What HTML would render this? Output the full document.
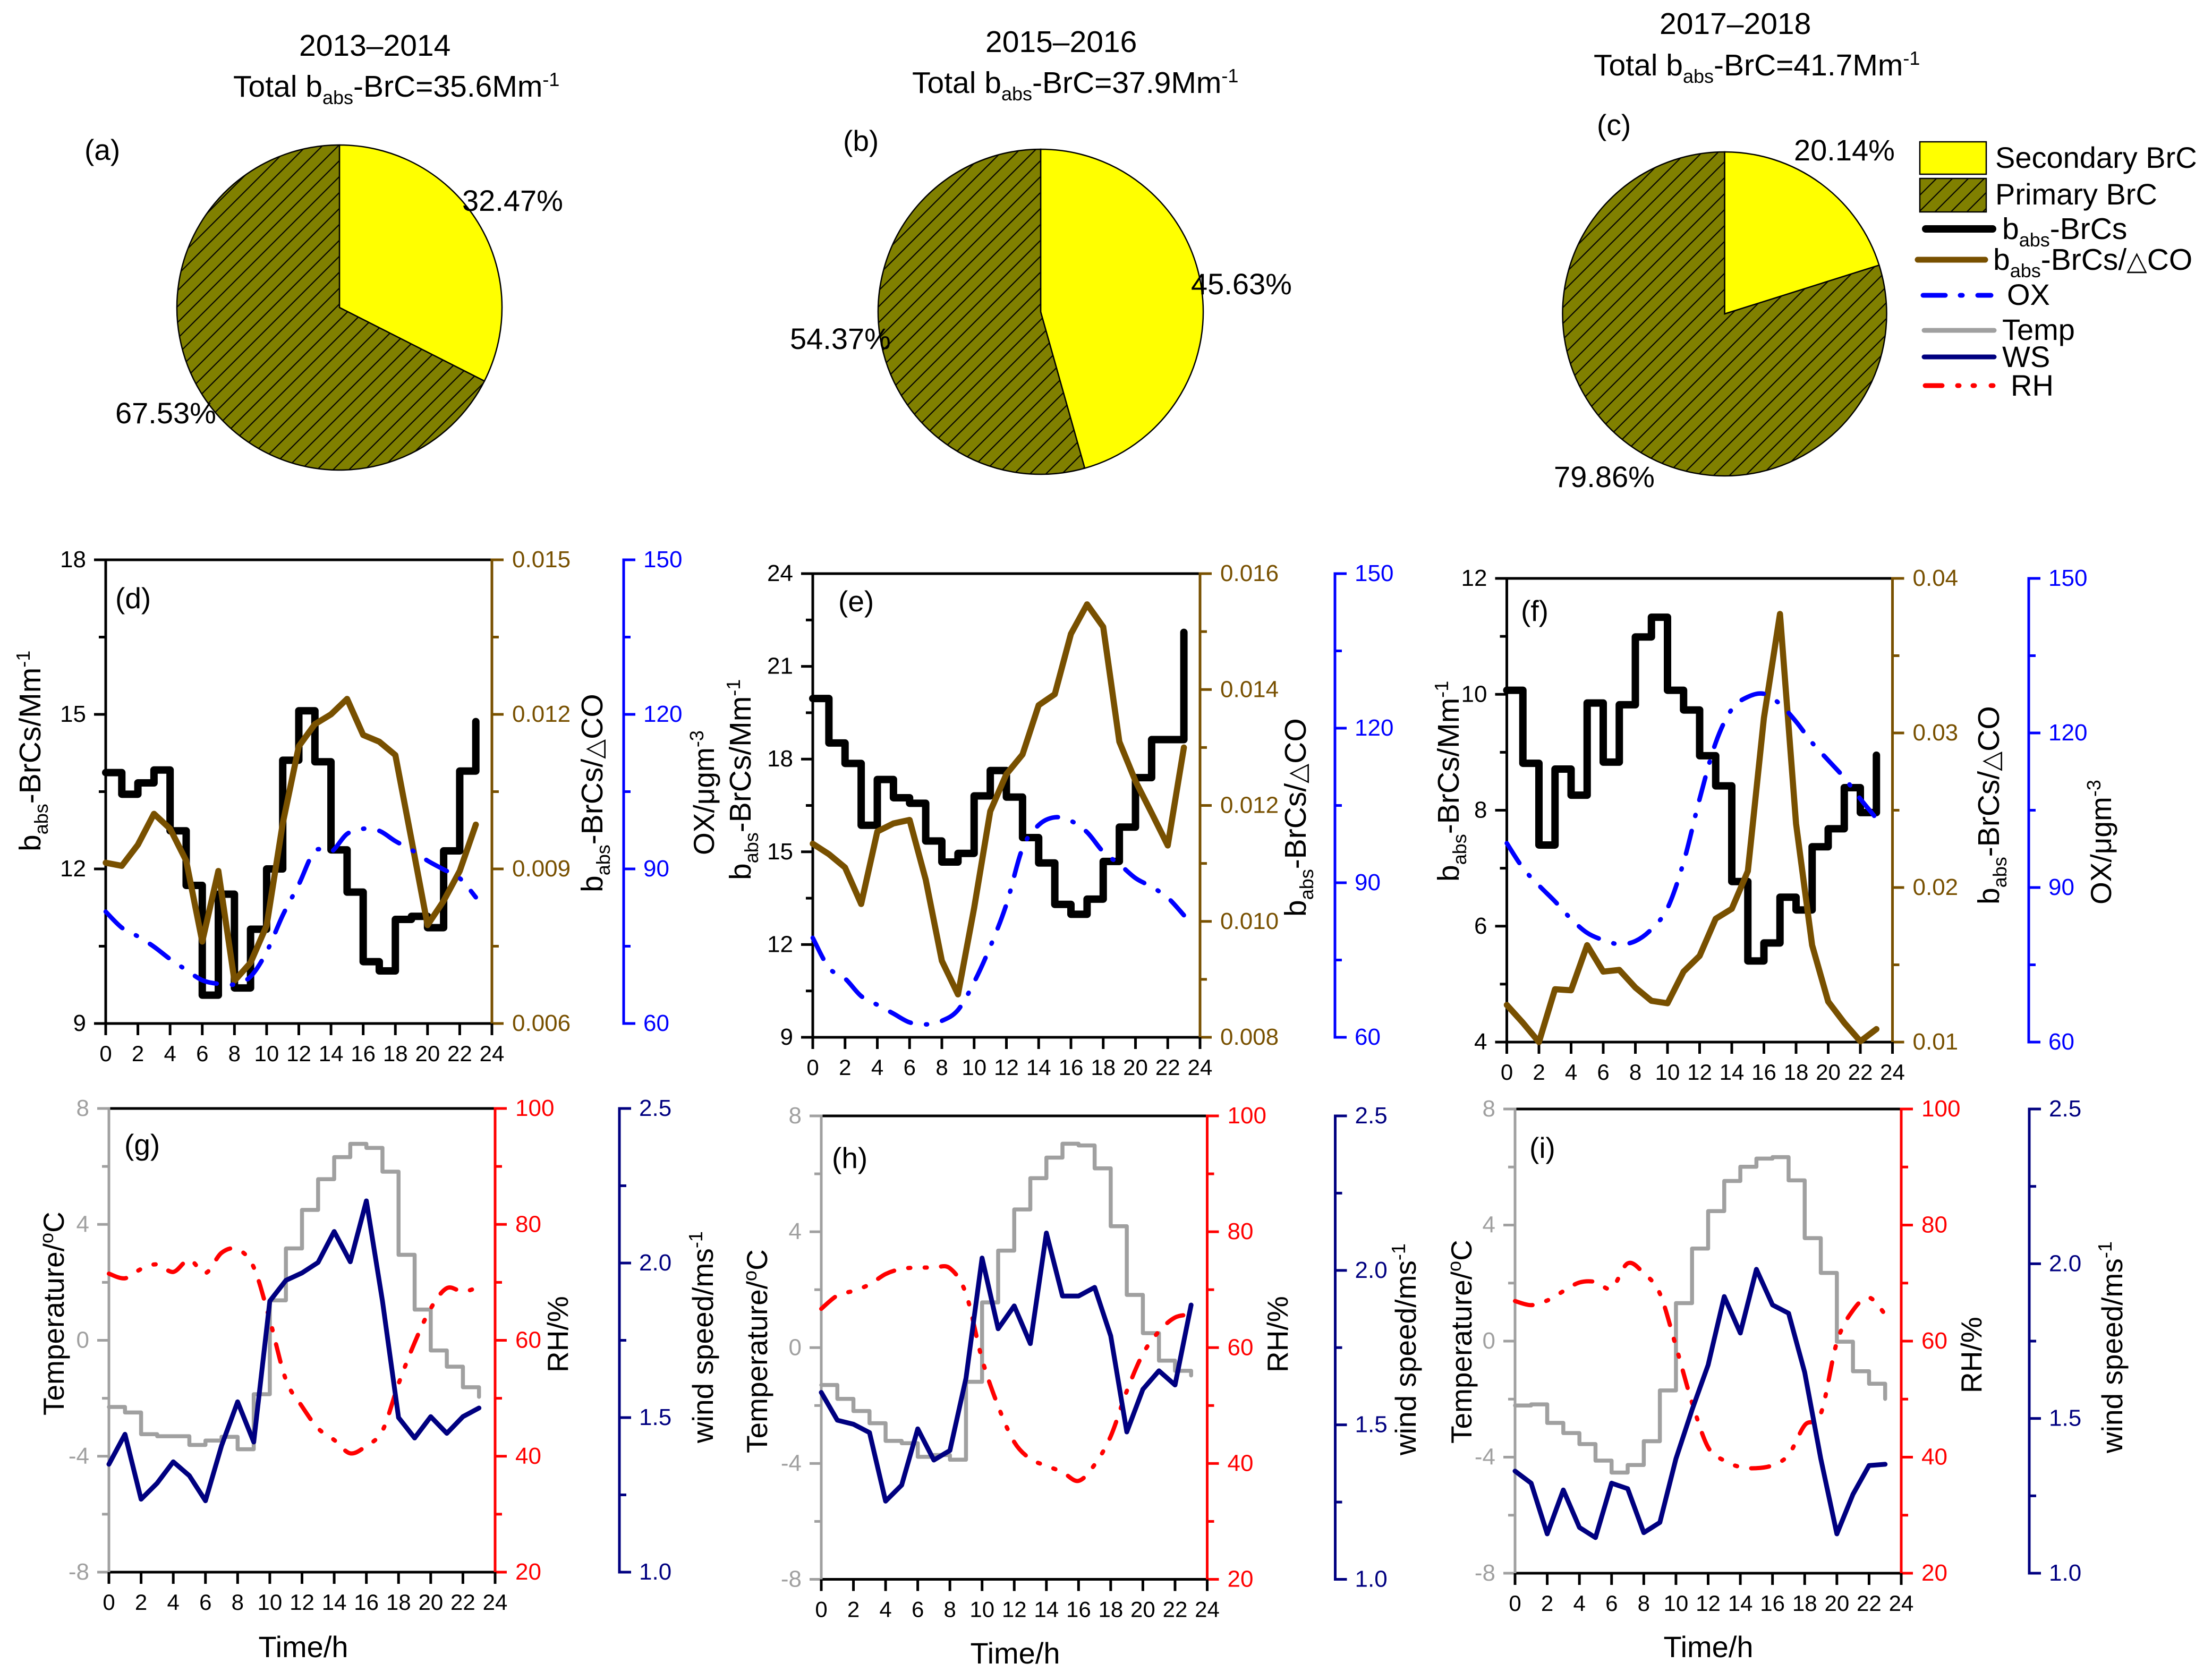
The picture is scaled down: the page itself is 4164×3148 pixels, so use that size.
<!DOCTYPE html>
<html lang="en">
<head>
<meta charset="utf-8">
<title>BrC pie charts and diurnal profiles</title>
<style>
html,body{margin:0;padding:0;background:#fff;}
svg{display:block;}
text{font-family:"Liberation Sans","DejaVu Sans",sans-serif;fill:#000;}
.t55{font-size:55px;}
.t56{font-size:56px;}
.t57{font-size:57px;}
.sub{font-size:36px;}
.tri{font-family:"DejaVu Sans",sans-serif;font-size:48px;}
.tril{font-family:"DejaVu Sans",sans-serif;font-size:50px;}
</style>
</head>
<body>
<svg id="figure" xmlns="http://www.w3.org/2000/svg" width="4164" height="3148" viewBox="0 0 4164 3148">
<defs>
<pattern id="hatch" patternUnits="userSpaceOnUse" width="21.21" height="21.21" patternTransform="rotate(-45)">
<rect width="21.21" height="21.21" fill="#808000"/>
<line x1="0" y1="8.2" x2="21.21" y2="8.2" stroke="#000" stroke-width="2"/>
</pattern>
<pattern id="hatch-legend" patternUnits="userSpaceOnUse" width="21.21" height="21.21" patternTransform="rotate(-45)">
<rect width="21.21" height="21.21" fill="#808000"/>
<line x1="0" y1="15.6" x2="21.21" y2="15.6" stroke="#000" stroke-width="2"/>
</pattern>
</defs>
<rect width="4164" height="3148" fill="#fff"/>

<text class="t57" x="563" y="105">2013–2014</text>
<text class="t57" x="439" y="182">Total b<tspan class="sub" dy="14">abs</tspan><tspan dy="-14">-BrC=35.6Mm</tspan><tspan class="sub" dy="-20">-1</tspan></text>
<text class="t57" x="1855" y="98">2015–2016</text>
<text class="t57" x="1717" y="175">Total b<tspan class="sub" dy="14">abs</tspan><tspan dy="-14">-BrC=37.9Mm</tspan><tspan class="sub" dy="-20">-1</tspan></text>
<text class="t57" x="3124" y="64">2017–2018</text>
<text class="t57" x="3000" y="142">Total b<tspan class="sub" dy="14">abs</tspan><tspan dy="-14">-BrC=41.7Mm</tspan><tspan class="sub" dy="-20">-1</tspan></text>

<g id="pie-a"></g>
<g id="pie-b"></g>
<g id="pie-c"></g>

<text class="t55" x="159" y="301">(a)</text>
<text class="t55" x="1587" y="284">(b)</text>
<text class="t55" x="3006" y="254">(c)</text>
<text class="t56" x="870" y="397">32.47%</text>
<text class="t56" x="217" y="797">67.53%</text>
<text class="t56" x="2242" y="554">45.63%</text>
<text class="t56" x="1487" y="657">54.37%</text>
<text class="t56" x="3377" y="302">20.14%</text>
<text class="t56" x="2925" y="917">79.86%</text>

<g>
<rect x="3614" y="267" width="125" height="61" fill="#ffff00" stroke="#000" stroke-width="2.5"/>
<text class="t56" x="3756" y="316">Secondary BrC</text>
<rect x="3614" y="336" width="125" height="63" fill="url(#hatch-legend)" stroke="#000" stroke-width="2.5"/>
<text class="t56" x="3756" y="385">Primary BrC</text>
<line x1="3625" y1="431" x2="3751" y2="431" stroke="#000" stroke-width="14" stroke-linecap="round"/>
<text class="t57" x="3769" y="450">b<tspan class="sub" dy="14">abs</tspan><tspan dy="-14">-BrCs</tspan></text>
<line x1="3610" y1="489" x2="3737" y2="489" stroke="#785000" stroke-width="11" stroke-linecap="round"/>
<text class="t57" x="3752" y="508">b<tspan class="sub" dy="14">abs</tspan><tspan dy="-14">-BrCs/</tspan><tspan class="tril">△</tspan><tspan>CO</tspan></text>
<line x1="3620" y1="556" x2="3748" y2="556" stroke="#0000ff" stroke-width="9" stroke-linecap="round" stroke-dasharray="42 28 4 29 25"/>
<text class="t56" x="3778" y="574">OX</text>
<line x1="3622" y1="622" x2="3754" y2="622" stroke="#a0a0a0" stroke-width="9" stroke-linecap="round"/>
<text class="t56" x="3769" y="640">Temp</text>
<line x1="3622" y1="672" x2="3754" y2="672" stroke="#000080" stroke-width="9" stroke-linecap="round"/>
<text class="t56" x="3769" y="691">WS</text>
<line x1="3624" y1="726" x2="3752" y2="726" stroke="#ff0000" stroke-width="9" stroke-linecap="round" stroke-dasharray="32 29 3 26 3 31 4"/>
<text class="t56" x="3785" y="745">RH</text>
</g>

<g id="panel-d"></g>
<g id="panel-e"></g>
<g id="panel-f"></g>
<g id="panel-g"></g>
<g id="panel-h"></g>
<g id="panel-i"></g>

<text class="t55" x="217" y="1145">(d)</text>
<text class="t55" x="1578" y="1151">(e)</text>
<text class="t55" x="2863" y="1169">(f)</text>
<text class="t55" x="234" y="2174">(g)</text>
<text class="t55" x="1566" y="2199">(h)</text>
<text class="t55" x="2879" y="2180">(i)</text>

<text class="t57" transform="translate(76 1603) rotate(-90)">b<tspan class="sub" dy="14">abs</tspan><tspan dy="-14">-BrCs/Mm</tspan><tspan class="sub" dy="-20">-1</tspan></text>
<text class="t57" transform="translate(1134 1680) rotate(-90)">b<tspan class="sub" dy="14">abs</tspan><tspan dy="-14">-BrCs/</tspan><tspan class="tri">△</tspan><tspan>CO</tspan></text>
<text class="t55" transform="translate(1344 1610) rotate(-90)">OX/μgm<tspan class="sub" dy="-20">-3</tspan></text>
<text class="t57" transform="translate(1413 1657) rotate(-90)">b<tspan class="sub" dy="14">abs</tspan><tspan dy="-14">-BrCs/Mm</tspan><tspan class="sub" dy="-20">-1</tspan></text>
<text class="t57" transform="translate(2458 1726) rotate(-90)">b<tspan class="sub" dy="14">abs</tspan><tspan dy="-14">-BrCs/</tspan><tspan class="tri">△</tspan><tspan>CO</tspan></text>
<text class="t57" transform="translate(2746 1660) rotate(-90)">b<tspan class="sub" dy="14">abs</tspan><tspan dy="-14">-BrCs/Mm</tspan><tspan class="sub" dy="-20">-1</tspan></text>
<text class="t57" transform="translate(3763 1703) rotate(-90)">b<tspan class="sub" dy="14">abs</tspan><tspan dy="-14">-BrCs/</tspan><tspan class="tri">△</tspan><tspan>CO</tspan></text>
<text class="t55" transform="translate(3974 1703) rotate(-90)">OX/μgm<tspan class="sub" dy="-20">-3</tspan></text>

<text class="t55" transform="translate(120 2665) rotate(-90)">Temperature/<tspan class="sub" dy="-20">o</tspan><tspan dy="20">C</tspan></text>
<text class="t55" transform="translate(1069 2584) rotate(-90)">RH/%</text>
<text class="t55" transform="translate(1342 2717) rotate(-90)">wind speed/ms<tspan class="sub" dy="-20">-1</tspan></text>
<text class="t56" x="571" y="3120" text-anchor="middle">Time/h</text>
<text class="t55" transform="translate(1444 2736) rotate(-90)">Temperature/<tspan class="sub" dy="-20">o</tspan><tspan dy="20">C</tspan></text>
<text class="t55" transform="translate(2424 2584) rotate(-90)">RH/%</text>
<text class="t55" transform="translate(2665 2740) rotate(-90)">wind speed/ms<tspan class="sub" dy="-20">-1</tspan></text>
<text class="t56" x="1911" y="3132" text-anchor="middle">Time/h</text>
<text class="t55" transform="translate(2770 2718) rotate(-90)">Temperature/<tspan class="sub" dy="-20">o</tspan><tspan dy="20">C</tspan></text>
<text class="t55" transform="translate(3730 2623) rotate(-90)">RH/%</text>
<text class="t55" transform="translate(3995 2736) rotate(-90)">wind speed/ms<tspan class="sub" dy="-20">-1</tspan></text>
<text class="t56" x="3216" y="3120" text-anchor="middle">Time/h</text>
</svg>

<script>
// ---------- data ----------
const pieAShares = [32.47, 67.53];
const pieBShares = [45.63, 54.37];
const pieCShares = [20.14, 79.86];

const xTickLabels = ["0","2","4","6","8","10","12","14","16","18","20","22","24"];

const dBrcsTicks = ["9","12","15","18"];
const dRatioTicks = ["0.006","0.009","0.012","0.015"];
const eBrcsTicks = ["9","12","15","18","21","24"];
const eRatioTicks = ["0.008","0.010","0.012","0.014","0.016"];
const fBrcsTicks = ["4","6","8","10","12"];
const fRatioTicks = ["0.01","0.02","0.03","0.04"];
const oxTicks = ["60","90","120","150"];
const tempTicks = ["-8","-4","0","4","8"];
const rhTicks = ["20","40","60","80","100"];
const wsTicks = ["1.0","1.5","2.0","2.5"];

const dBrcs = [13.87,13.45,13.67,13.92,12.74,11.68,9.55,11.51,9.69,10.83,12.0,14.11,15.07,14.08,12.37,11.55,10.2,10.02,11.02,11.08,10.86,12.35,13.9,14.86];
const dRatio = [0.00912,0.00906,0.00947,0.01007,0.00978,0.00916,0.00759,0.00896,0.00683,0.00718,0.0079,0.00988,0.01138,0.01181,0.0120,0.0123,0.0116,0.01147,0.01121,0.00957,0.00791,0.00838,0.00896,0.00986];
const dOx = [81.7,78.6,76.9,74.9,72.5,70.4,68.4,67.7,67.6,69.1,73.9,81,87,93.5,93.3,96.8,97.8,97.4,95.4,93.7,91.6,89.9,88.2,84.5];

const eBrcs = [19.96,18.52,17.86,15.86,17.34,16.75,16.57,15.35,14.67,14.95,16.81,17.63,16.77,15.46,14.64,13.3,12.98,13.47,14.69,15.8,17.4,18.63,18.63,22.1];
const eRatio = [0.01134,0.01116,0.01093,0.0103,0.01155,0.01169,0.01175,0.01072,0.00932,0.00874,0.01023,0.0119,0.01254,0.01288,0.01373,0.01392,0.01496,0.01547,0.01508,0.0131,0.01242,0.01187,0.01131,0.013];
const eOx = [79.3,73.5,71.4,68,66.3,64.6,62.9,62.5,63.2,65.3,70.7,77.6,85.8,96.7,101.2,102.7,102,99.8,96,93.6,90.9,89.2,87.1,83.7];

const fBrcs = [10.07,8.81,7.4,8.71,8.26,9.85,8.83,9.82,10.99,11.33,10.07,9.73,8.94,8.42,6.77,5.4,5.71,6.5,6.28,7.37,7.68,8.39,7.96,8.95];
const fRatio = [0.0124,0.01125,0.01,0.01342,0.01335,0.01627,0.01456,0.01467,0.01353,0.01267,0.01251,0.01456,0.01558,0.01798,0.01862,0.02106,0.03097,0.0377,0.02413,0.01627,0.01262,0.01125,0.01005,0.01084];
const fOx = [98.6,93.8,90.4,87.3,83.9,81.2,79.8,79,79.6,81.9,86,94.9,107.2,118.1,124.6,127,127.6,125.6,122.2,118.1,114.7,111.3,107.2,103.4];

const gTemp = [-2.3,-2.49,-3.24,-3.31,-3.31,-3.61,-3.46,-3.33,-3.76,-1.86,1.38,3.17,4.5,5.56,6.32,6.78,6.64,5.82,2.95,1.06,-0.35,-0.91,-1.62,-1.95];
const gRh = [71.5,70.7,72.3,73.1,71.8,73.9,71.6,75.1,75.7,72.6,63.5,53.2,48.6,44.8,42.8,40.5,41.8,44.4,52.5,59.6,65.5,69,68.4,69.2];
const gWs = [1.349,1.446,1.236,1.288,1.357,1.312,1.231,1.409,1.551,1.421,1.877,1.944,1.968,2.002,2.102,2.004,2.201,1.877,1.5,1.434,1.503,1.449,1.503,1.531];

const hTemp = [-1.29,-1.77,-2.19,-2.61,-3.22,-3.3,-3.77,-3.71,-3.87,-1.18,1.56,3.35,4.77,5.85,6.56,7.04,6.98,6.19,4.19,1.82,0.5,-0.45,-0.8,-0.96];
const hRh = [66.7,69,69.8,70.9,72.7,73.6,73.8,73.8,73.7,69.3,58,49.9,43.7,40.8,39.6,38.5,37,39.8,44.7,52.5,58.9,62.8,65.2,65.7];
const hWs = [1.605,1.515,1.502,1.475,1.253,1.305,1.487,1.386,1.417,1.651,2.04,1.811,1.885,1.763,2.121,1.917,1.917,1.945,1.788,1.477,1.615,1.675,1.629,1.888];

const iTemp = [-2.22,-2.18,-2.82,-3.17,-3.55,-4.12,-4.53,-4.27,-3.45,-1.7,1.31,3.19,4.48,5.52,6.01,6.29,6.34,5.54,3.55,2.35,-0.02,-1.04,-1.47,-1.99];
const iRh = [66.9,66.2,67,68.6,70.1,70.2,69.1,73.4,71.7,68.2,59.1,49.4,41.7,39.4,38.3,38.1,38.6,40.4,45.5,47.5,59.8,65.3,67.5,64.6];
const iWs = [1.33,1.291,1.127,1.269,1.148,1.115,1.291,1.273,1.131,1.164,1.37,1.528,1.673,1.894,1.776,1.982,1.867,1.84,1.649,1.37,1.127,1.255,1.348,1.352];

// ---------- helpers ----------
const NS = "http://www.w3.org/2000/svg";
const BROWN = "#785000", BLUE = "#0000ff", RED = "#ff0000", NAVY = "#000080", GREY = "#a0a0a0", BLACK = "#000000";

function axisScale(min, max, a, b) {
  return function (v) { return a + (v - min) / (max - min) * (b - a); };
}

function drawPie(id, shares, cx, cy, r) {
  const g = document.getElementById(id);
  const total = shares.reduce(function (s, v) { return s + v; }, 0);
  let acc = 0;
  const fills = ["#ffff00", "url(#hatch)"];
  shares.forEach(function (v, i) {
    const a0 = acc / total * 2 * Math.PI;
    acc += v;
    const a1 = acc / total * 2 * Math.PI;
    const large = a1 - a0 > Math.PI ? 1 : 0;
    const d = "M" + cx + " " + cy +
      "L" + (cx + r * Math.sin(a0)) + " " + (cy - r * Math.cos(a0)) +
      "A" + r + " " + r + " 0 " + large + " 1 " + (cx + r * Math.sin(a1)) + " " + (cy - r * Math.cos(a1)) + "Z";
    const slice = document.createElementNS(NS, "path");
    
    
    slice.setAttribute("d", d);
    slice.setAttribute("fill", fills[i]);
    slice.setAttribute("stroke", "#000");
    slice.setAttribute("stroke-width", "2.5");
    g.appendChild(slice);
  });
}

function spine(g, x1, y1, x2, y2, color) {
  const line = document.createElementNS(NS, "line");
  
  
  line.setAttribute("x1", x1);
  line.setAttribute("y1", y1);
  line.setAttribute("x2", x2);
  line.setAttribute("y2", y2);
  line.setAttribute("stroke", color);
  line.setAttribute("stroke-width", "5");
  line.setAttribute("stroke-linecap", "square");
  g.appendChild(line);
}

function yAxis(g, axisX, dir, ticks, y, color, labelColor, labelOffset) {
  // dir = -1 tick marks to the left, +1 tick marks to the right
  const values = ticks.map(parseFloat);
  const marks = [];
  values.forEach(function (v, i) {
    marks.push({ v: v, major: true, label: ticks[i] });
    if (i < values.length - 1) marks.push({ v: (v + values[i + 1]) / 2, major: false });
  });
  marks.forEach(function (m) {
    const tick = document.createElementNS(NS, "line");
    
    
    tick.setAttribute("x1", axisX);
    tick.setAttribute("x2", axisX + dir * (m.major ? 22 : 13));
    tick.setAttribute("y1", y(m.v));
    tick.setAttribute("y2", y(m.v));
    tick.setAttribute("stroke", color);
    tick.setAttribute("stroke-width", "5");
    g.appendChild(tick);
    if (m.major) {
      const label = document.createElementNS(NS, "text");
      
      
      label.setAttribute("x", axisX + dir * labelOffset);
      label.setAttribute("y", y(m.v) + 14);
      label.setAttribute("font-size", "44");
      label.setAttribute("text-anchor", dir < 0 ? "end" : "start");
      label.setAttribute("style", "fill:" + labelColor);
      label.textContent = m.label;
      g.appendChild(label);
    }
  });
}

function xAxis(g, x, bottom) {
  xTickLabels.forEach(function (t) {
    const v = parseFloat(t);
    const tick = document.createElementNS(NS, "line");
    
    
    tick.setAttribute("x1", x(v));
    tick.setAttribute("x2", x(v));
    tick.setAttribute("y1", bottom);
    tick.setAttribute("y2", bottom + 22);
    tick.setAttribute("stroke", "#000");
    tick.setAttribute("stroke-width", "5");
    g.appendChild(tick);
    const label = document.createElementNS(NS, "text");
    
    
    label.setAttribute("x", x(v));
    label.setAttribute("y", bottom + 71);
    label.setAttribute("font-size", "42");
    label.setAttribute("text-anchor", "middle");
    label.textContent = t;
    g.appendChild(label);
  });
}

function stepSeries(g, values, x, y, color, width) {
  let d = "M" + x(0) + " " + y(values[0]);
  values.forEach(function (v, i) {
    if (i > 0) d += "V" + y(v);
    if (i < values.length - 1) d += "H" + x(i + 1);
  });
  const path = document.createElementNS(NS, "path");
  
  
  path.setAttribute("d", d);
  path.setAttribute("fill", "none");
  path.setAttribute("stroke", color);
  path.setAttribute("stroke-width", width);
  path.setAttribute("stroke-linejoin", "round");
  path.setAttribute("stroke-linecap", "round");
  g.appendChild(path);
}

function lineSeries(g, values, x, y, color, width, dash) {
  const pts = values.map(function (v, i) { return [x(i), y(v)]; });
  let d = "M" + pts[0][0] + " " + pts[0][1];
  if (dash) {
    // smoothed curve for the dashed series
    for (let i = 0; i < pts.length - 1; i++) {
      const p0 = pts[Math.max(i - 1, 0)], p1 = pts[i], p2 = pts[i + 1], p3 = pts[Math.min(i + 2, pts.length - 1)];
      d += "C" + (p1[0] + (p2[0] - p0[0]) / 6) + " " + (p1[1] + (p2[1] - p0[1]) / 6) + " " +
        (p2[0] - (p3[0] - p1[0]) / 6) + " " + (p2[1] - (p3[1] - p1[1]) / 6) + " " + p2[0] + " " + p2[1];
    }
  } else {
    for (let i = 1; i < pts.length; i++) d += "L" + pts[i][0] + " " + pts[i][1];
  }
  const path = document.createElementNS(NS, "path");
  
  
  path.setAttribute("d", d);
  path.setAttribute("fill", "none");
  path.setAttribute("stroke", color);
  path.setAttribute("stroke-width", width);
  path.setAttribute("stroke-linejoin", "round");
  path.setAttribute("stroke-linecap", "round");
  if (dash) path.setAttribute("stroke-dasharray", dash);
  g.appendChild(path);
}

function upperPanel(id, box, brcs, brcsTicks, ratio, ratioTicks, ox) {
  const g = document.getElementById(id);
  const x = axisScale(0, 24, box.l, box.r);
  const leftV = brcsTicks.map(parseFloat), rightV = ratioTicks.map(parseFloat), oxV = oxTicks.map(parseFloat);
  const yL = axisScale(leftV[0], leftV[leftV.length - 1], box.b, box.t);
  const yR = axisScale(rightV[0], rightV[rightV.length - 1], box.b, box.t);
  const yO = axisScale(oxV[0], oxV[oxV.length - 1], box.b, box.t);
  spine(g, box.l, box.t, box.r, box.t, BLACK);
  spine(g, box.l, box.b, box.r, box.b, BLACK);
  spine(g, box.l, box.t, box.l, box.b, BLACK);
  spine(g, box.r, box.t, box.r, box.b, BROWN);
  spine(g, box.a, box.t, box.a, box.b, BLUE);
  yAxis(g, box.l, -1, brcsTicks, yL, BLACK, BLACK, 37);
  yAxis(g, box.r, 1, ratioTicks, yR, BROWN, BROWN, 38);
  yAxis(g, box.a, 1, oxTicks, yO, BLUE, BLUE, 37);
  xAxis(g, x, box.b);
  stepSeries(g, brcs, x, yL, BLACK, 14);
  lineSeries(g, ratio, x, yR, BROWN, 11.5);
  lineSeries(g, ox, x, yO, BLUE, 8.5, "44 29 2 29");
}

function lowerPanel(id, box, temp, rh, ws) {
  const g = document.getElementById(id);
  const x = axisScale(0, 24, box.l, box.r);
  const yL = axisScale(-8, 8, box.b, box.t);
  const yR = axisScale(20, 100, box.b, box.t);
  const yW = axisScale(1, 2.5, box.b, box.t);
  spine(g, box.l, box.t, box.r, box.t, BLACK);
  spine(g, box.l, box.b, box.r, box.b, BLACK);
  spine(g, box.l, box.t, box.l, box.b, GREY);
  spine(g, box.r, box.t, box.r, box.b, RED);
  spine(g, box.a, box.t, box.a, box.b, NAVY);
  yAxis(g, box.l, -1, tempTicks, yL, GREY, GREY, 37);
  yAxis(g, box.r, 1, rhTicks, yR, RED, RED, 38);
  yAxis(g, box.a, 1, wsTicks, yW, NAVY, NAVY, 37);
  xAxis(g, x, box.b);
  stepSeries(g, temp, x, yL, GREY, 7.5);
  lineSeries(g, rh, x, yR, RED, 8, "34 27 4 27 4 27");
  lineSeries(g, ws, x, yW, NAVY, 9);
}

// ---------- render ----------
drawPie("pie-a", pieAShares, 639, 579, 306);
drawPie("pie-b", pieBShares, 1959, 587, 306);
drawPie("pie-c", pieCShares, 3246.5, 591, 305);

upperPanel("panel-d", { l: 199, r: 926, t: 1054, b: 1927, a: 1174 }, dBrcs, dBrcsTicks, dRatio, dRatioTicks, dOx);
upperPanel("panel-e", { l: 1530, r: 2259, t: 1080, b: 1953, a: 2513 }, eBrcs, eBrcsTicks, eRatio, eRatioTicks, eOx);
upperPanel("panel-f", { l: 2836.5, r: 3562.5, t: 1089, b: 1962, a: 3819 }, fBrcs, fBrcsTicks, fRatio, fRatioTicks, fOx);

lowerPanel("panel-g", { l: 205, r: 932, t: 2087, b: 2960, a: 1166 }, gTemp, gRh, gWs);
lowerPanel("panel-h", { l: 1546, r: 2272.5, t: 2101, b: 2973.5, a: 2513.5 }, hTemp, hRh, hWs);
lowerPanel("panel-i", { l: 2852, r: 3579, t: 2088, b: 2962, a: 3820 }, iTemp, iRh, iWs);
</script>
</body>
</html>
